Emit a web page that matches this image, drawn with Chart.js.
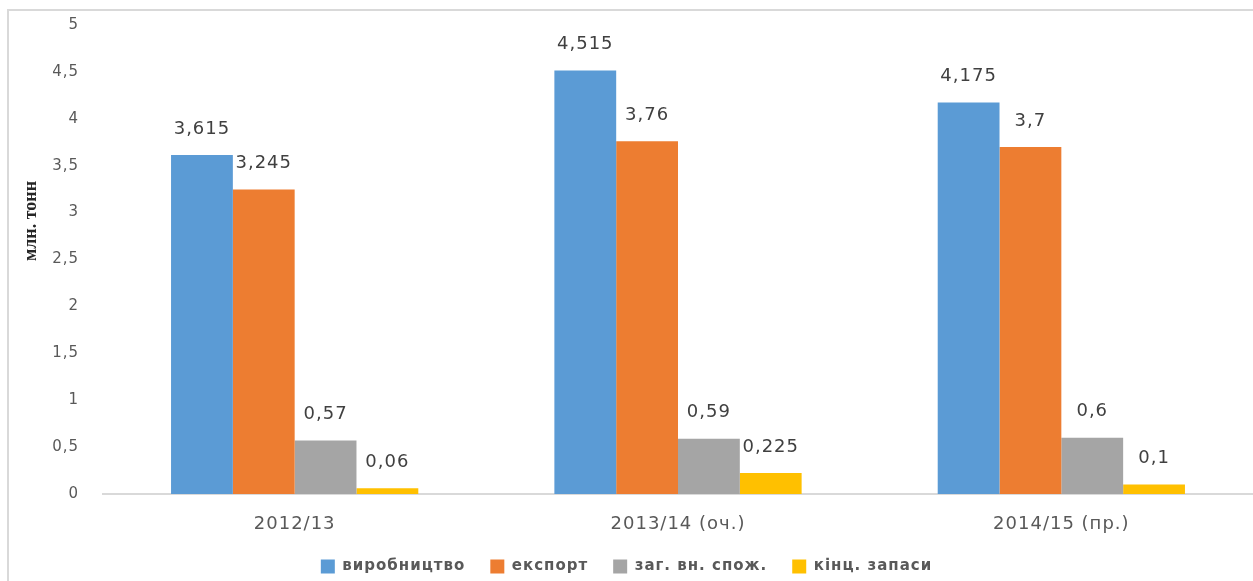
<!DOCTYPE html>
<html>
<head>
<meta charset="utf-8">
<script src="https://cdn.jsdelivr.net/npm/chart.js@4.4.1/dist/chart.umd.min.js"></script>
<style>
  html, body { margin: 0; padding: 0; background: #ffffff; overflow: hidden; }
  #wrap { position: relative; width: 1253px; height: 581px; }
  #frame { position: absolute; left: 7px; top: 9px; width: 1300px; height: 640px;
           border-left: 2px solid #d9d9d9; border-top: 2px solid #d9d9d9; box-sizing: border-box; }
  canvas { position: absolute; left: 0; top: 0; }
</style>
</head>
<body>
<div id="wrap">
  <div id="frame"></div>
  <canvas id="c" width="1253" height="581"></canvas>
</div>
<script>
const categories = ['2012/13', '2013/14 (оч.)', '2014/15 (пр.)'];
const seriesNames = ['виробництво', 'експорт', 'заг. вн. спож.', 'кінц. запаси'];
const production = [3.615, 4.515, 4.175];
const exportVals = [3.245, 3.76, 3.7];
const domestic = [0.57, 0.59, 0.6];
const endStocks = [0.06, 0.225, 0.1];
const yTicks = [0, 0.5, 1, 1.5, 2, 2.5, 3, 3.5, 4, 4.5, 5];
const axisTitle = 'млн. тонн';

const colors = ['#5B9BD5', '#ED7D31', '#A5A5A5', '#FFC000'];
const seriesValues = [production, exportVals, domestic, endStocks];

const fmt = v => String(v).replace('.', ',');

const spacing = {
  id: 'spacing',
  beforeUpdate(chart) { chart.ctx.letterSpacing = '1px'; },
  beforeLayout(chart) { chart.ctx.letterSpacing = '1px'; },
  beforeDraw(chart) { chart.ctx.letterSpacing = '1px'; }
};

const dataLabels = {
  id: 'dataLabels',
  afterDatasetsDraw(chart) {
    const ctx = chart.ctx;
    ctx.save();
    ctx.letterSpacing = '1px';
    ctx.font = '18px "DejaVu Sans"';
    ctx.fillStyle = '#404040';
    ctx.textAlign = 'center';
    ctx.textBaseline = 'middle';
    chart.data.datasets.forEach((ds, i) => {
      const meta = chart.getDatasetMeta(i);
      meta.data.forEach((bar, j) => {
        ctx.fillText(fmt(ds.data[j]), bar.x, bar.y - 26);
      });
    });
    ctx.restore();
  }
};

const yTitle = {
  id: 'yTitle',
  afterDraw(chart) {
    const ctx = chart.ctx;
    ctx.save();
    ctx.letterSpacing = '0px';
    ctx.translate(31, 221);
    ctx.rotate(-Math.PI / 2);
    ctx.font = 'bold 18px "Liberation Serif"';
    ctx.fillStyle = '#262626';
    ctx.textAlign = 'center';
    ctx.textBaseline = 'middle';
    ctx.fillText(axisTitle, 0, 0);
    ctx.restore();
  }
};

new Chart(document.getElementById('c'), {
  type: 'bar',
  data: {
    labels: categories,
    datasets: seriesNames.map((name, i) => ({
      label: name,
      data: seriesValues[i],
      backgroundColor: colors[i],
      borderWidth: 0,
      categoryPercentage: 0.645,
      barPercentage: 1.0
    }))
  },
  options: {
    responsive: false,
    animation: false,
    layout: { padding: { top: 25, left: 0, right: 0, bottom: -3 } },
    plugins: {
      tooltip: { enabled: false },
      legend: {
        position: 'bottom',
        labels: {
          boxWidth: 14,
          boxHeight: 14,
          padding: 25,
          color: '#595959',
          font: { family: '"DejaVu Sans"', size: 15, weight: 'bold' }
        }
      }
    },
    scales: {
      x: {
        grid: { display: false },
        border: { display: true, color: '#d9d9d9', width: 2 },
        ticks: { color: '#595959', font: { family: '"DejaVu Sans"', size: 18 }, padding: 12 },
        afterFit: s => { s.height = 40; }
      },
      y: {
        min: 0, max: 5,
        grid: { display: false },
        border: { display: false },
        afterBuildTicks: s => { s.ticks = yTicks.map(v => ({ value: v })); },
        ticks: {
          color: '#595959',
          font: { family: '"DejaVu Sans"', size: 15 },
          padding: 16,
          callback: v => fmt(v)
        },
        afterFit: s => { s.width = 103; }
      }
    }
  },
  plugins: [spacing, dataLabels, yTitle]
});
</script>
</body>
</html>
